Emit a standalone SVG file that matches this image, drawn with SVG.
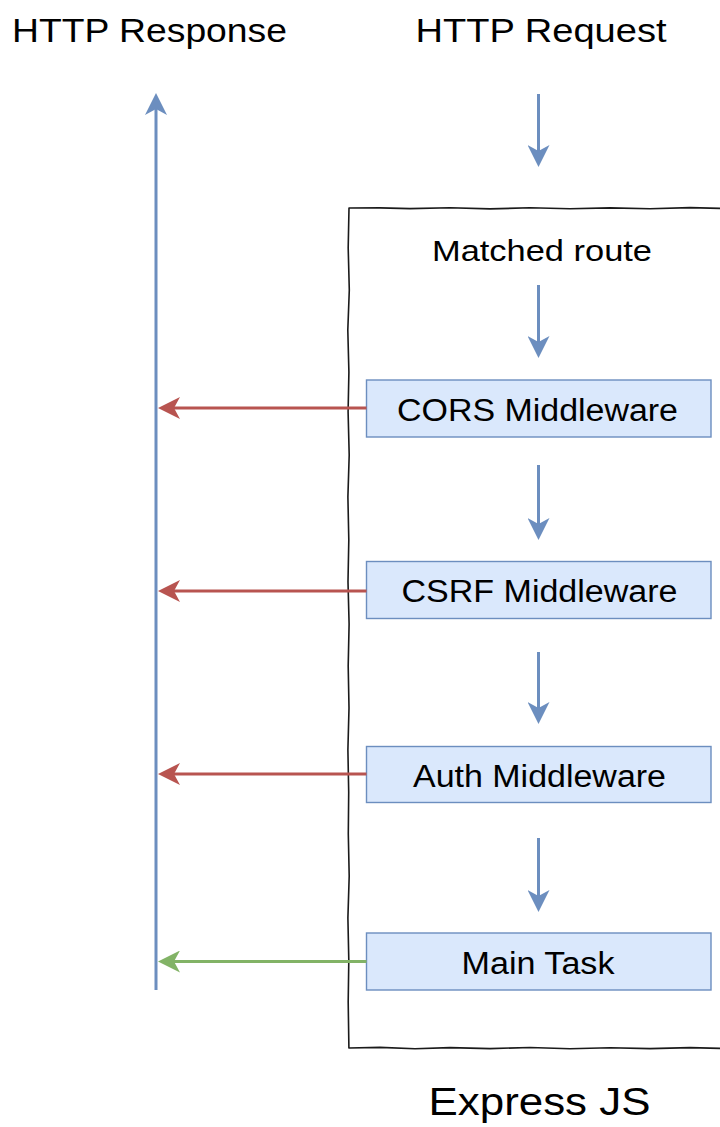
<svg xmlns="http://www.w3.org/2000/svg" width="720" height="1127" viewBox="0 0 720 1127">
  <style>
    .t { font-family: "Liberation Sans", Arial, Helvetica, sans-serif; fill: #000; text-anchor: middle; }
    .box { fill: #dae8fc; stroke: #6c8ebf; stroke-width: 1.4; }
    .blue { stroke: #6c8ebf; stroke-width: 3; fill: none; }
    .red { stroke: #b85450; stroke-width: 3; fill: none; }
    .green { stroke: #82b366; stroke-width: 3; fill: none; }
    .frame { fill: none; stroke: #1a1a1a; stroke-width: 1.6; stroke-linejoin: round; }
  </style>
  <defs>
    <marker id="ahBlue" viewBox="0 0 22 22" refX="14" refY="11" markerWidth="22" markerHeight="22" markerUnits="userSpaceOnUse" orient="auto">
      <path d="M0,0 L22,11 L0,22 L6,11 Z" fill="#6c8ebf"/>
    </marker>
    <marker id="ahRed" viewBox="0 0 22 22" refX="14" refY="11" markerWidth="22" markerHeight="22" markerUnits="userSpaceOnUse" orient="auto">
      <path d="M0,0 L22,11 L0,22 L6,11 Z" fill="#b85450"/>
    </marker>
    <marker id="ahGreen" viewBox="0 0 22 22" refX="14" refY="11" markerWidth="22" markerHeight="22" markerUnits="userSpaceOnUse" orient="auto">
      <path d="M0,0 L22,11 L0,22 L6,11 Z" fill="#82b366"/>
    </marker>
  </defs>
  <rect width="720" height="1127" fill="#ffffff"/>

  <g id="express-container">
    <path class="frame" d="M 725,208.5 L 690,207.6 L 650,208.8 L 610,207.9 L 570,208.7 L 530,207.8 L 490,208.9 L 450,207.7 L 410,208.6 L 380,207.9 L 349,208 L 348.2,248 L 349.3,290 L 347.8,330 L 348.9,372 L 348.1,412 L 349.2,455 L 347.9,497 L 348.8,540 L 348.0,582 L 349.1,624 L 348.2,666 L 349.0,708 L 347.9,750 L 348.7,792 L 348.3,834 L 349.2,876 L 347.9,918 L 348.8,960 L 348.2,1002 L 348.9,1048 L 380,1047.4 L 415,1048.7 L 450,1047.6 L 490,1048.6 L 530,1047.5 L 570,1048.8 L 610,1047.7 L 650,1048.6 L 690,1047.6 L 725,1048.5"/>
    <text class="t" x="539.5" y="1115" font-size="38" textLength="222" lengthAdjust="spacingAndGlyphs">Express JS</text>
  </g>

  <g id="http-response">
    <text class="t" x="149.5" y="42.3" font-size="34" textLength="275" lengthAdjust="spacingAndGlyphs">HTTP Response</text>
  </g>
  <g id="http-request">
    <text class="t" x="541" y="42.3" font-size="34" textLength="251" lengthAdjust="spacingAndGlyphs">HTTP Request</text>
  </g>
  <g id="matched-route">
    <text class="t" x="542" y="261" font-size="30" textLength="220" lengthAdjust="spacingAndGlyphs">Matched route</text>
  </g>

  <g id="cors">
    <rect class="box" x="366.5" y="380" width="344.5" height="57"/>
    <text class="t" x="537.5" y="420.7" font-size="31" textLength="281" lengthAdjust="spacingAndGlyphs">CORS Middleware</text>
  </g>
  <g id="csrf">
    <rect class="box" x="366.5" y="561.5" width="344.5" height="57"/>
    <text class="t" x="539.5" y="602.3" font-size="31" textLength="276" lengthAdjust="spacingAndGlyphs">CSRF Middleware</text>
  </g>
  <g id="auth">
    <rect class="box" x="366.5" y="746.5" width="344.5" height="56"/>
    <text class="t" x="539.5" y="786.8" font-size="31" textLength="253" lengthAdjust="spacingAndGlyphs">Auth Middleware</text>
  </g>
  <g id="main-task">
    <rect class="box" x="366.5" y="933" width="344.5" height="57"/>
    <text class="t" x="538" y="973.5" font-size="31" textLength="153" lengthAdjust="spacingAndGlyphs">Main Task</text>
  </g>

  <g id="connectors">
    <!-- response line -->
    <line class="blue" x1="156" y1="990" x2="156" y2="101" marker-end="url(#ahBlue)"/>
    <!-- request flow -->
    <line class="blue" x1="538.5" y1="94" x2="538.5" y2="159" marker-end="url(#ahBlue)"/>
    <line class="blue" x1="538.5" y1="285" x2="538.5" y2="350" marker-end="url(#ahBlue)"/>
    <line class="blue" x1="538.5" y1="465" x2="538.5" y2="532" marker-end="url(#ahBlue)"/>
    <line class="blue" x1="538.5" y1="652" x2="538.5" y2="716" marker-end="url(#ahBlue)"/>
    <line class="blue" x1="538.5" y1="838" x2="538.5" y2="904" marker-end="url(#ahBlue)"/>
    <!-- reject paths -->
    <line class="red" x1="366.5" y1="408" x2="166" y2="408" marker-end="url(#ahRed)"/>
    <line class="red" x1="366.5" y1="591" x2="166" y2="591" marker-end="url(#ahRed)"/>
    <line class="red" x1="366.5" y1="774" x2="166" y2="774" marker-end="url(#ahRed)"/>
    <!-- success path -->
    <line class="green" x1="366.5" y1="961.5" x2="166" y2="961.5" marker-end="url(#ahGreen)"/>
  </g>
</svg>
